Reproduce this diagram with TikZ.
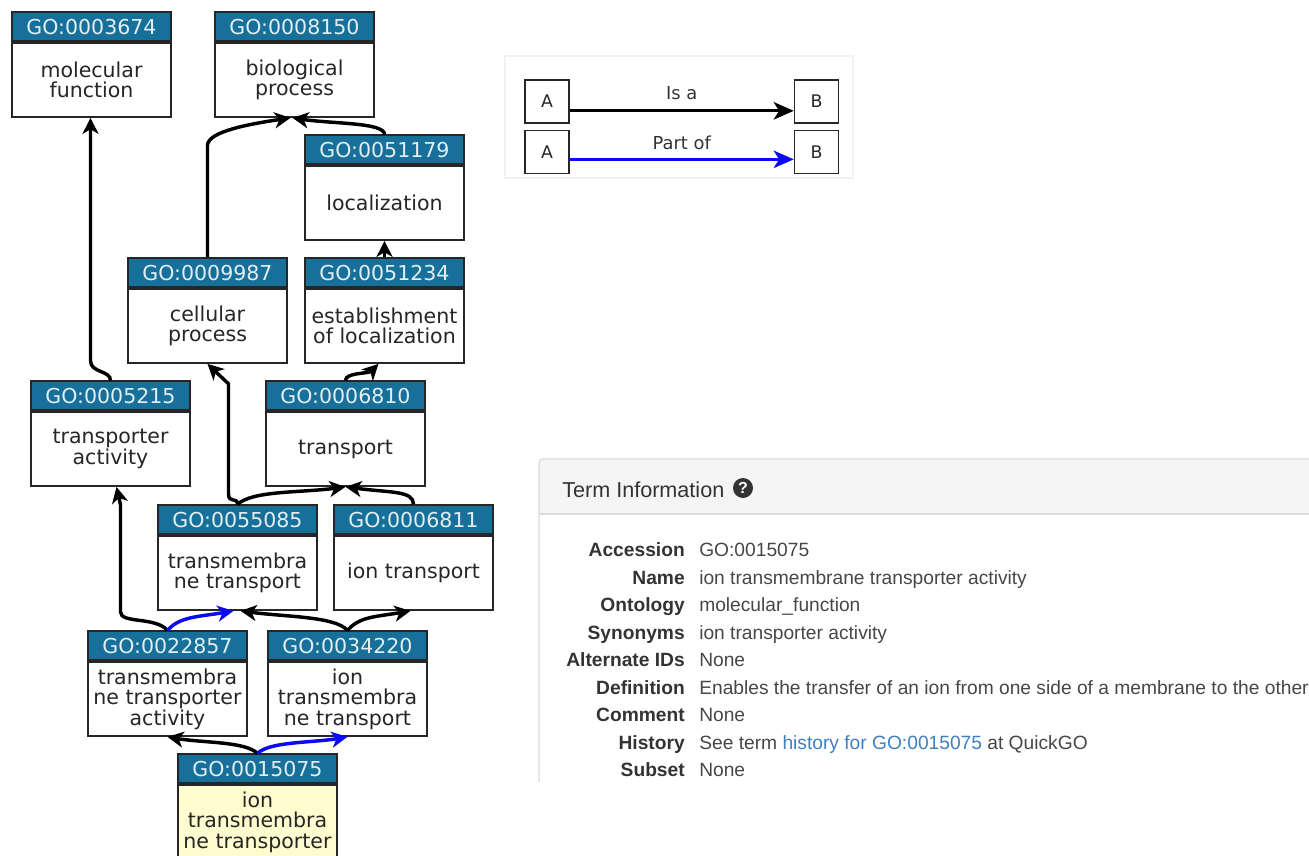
\documentclass[tikz,border=0pt]{standalone}
\usepackage{fontspec}
\newfontfamily\gofont{DejaVu Sans}
\newfontfamily\webfont{Liberation Sans}
\usetikzlibrary{arrows.meta,calc}
\definecolor{goheadc}{HTML}{16709A}
\definecolor{goyellow}{HTML}{FFFCCF}
\definecolor{txtdark}{HTML}{333333}
\definecolor{linkc}{HTML}{3F80C2}
\definecolor{partblue}{RGB}{10,10,245}
\tikzset{
  gobody/.style={draw=black!85, line width=1.3pt, fill=white, minimum width=119.25pt,
    minimum height=55.5pt, inner sep=0pt, align=center,
    font=\gofont\fontsize{15.4}{15.4}\selectfont, text=black!85},
  gohead/.style={draw=black!85, line width=1.3pt, fill=goheadc, minimum width=119.25pt,
    minimum height=21.75pt, inner sep=0pt, anchor=south,
    font=\gofont\fontsize{15.4}{16}\selectfont, text=white!88!goheadc},
  isa/.style={draw=black, line width=2.6pt, -{Stealth[length=12pt,width=12pt,inset=3.5pt]}},
  partof/.style={isa, draw=partblue},
  legbox/.style={draw=black!85, line width=1.1pt, minimum width=33pt, minimum height=32.25pt,
    inner sep=0pt, font=\gofont\fontsize{13}{13}\selectfont, text=black!85},
  legarrow/.style={line width=2.4pt, -{Stealth[length=15pt,width=13pt,inset=4pt]}},
  leglabel/.style={font=\gofont\fontsize{13.4}{14}\selectfont, text=black!80, inner sep=0pt},
  rowlab/.style={anchor=base east, inner sep=0pt, font=\webfont\bfseries\fontsize{14.4}{16}\selectfont, text=txtdark},
  rowval/.style={anchor=base west, inner sep=0pt, font=\webfont\fontsize{14.4}{16}\selectfont, text=txtdark!90}
}
\newcommand\goterm[6][white]{%
  \node[gobody,fill=#1] (#2) at (#3,#4) {#6};
  \node[gohead] (#2-id) at (#2.north) {#5};}
\begin{document}
\begin{tikzpicture}[x=0.75pt,y=-0.75pt]
\useasboundingbox (0,0) rectangle (1309,856);
\fill[white] (0,0) rectangle (1309,856);
\clip (0,0) rectangle (1309,856);

% ---------- GO graph ----------
\goterm{mf}{91.5}{80}{GO:0003674}{molecular\\function}
\goterm{bp}{294.5}{80}{GO:0008150}{biological\\process}
\goterm{loc}{384.5}{203}{GO:0051179}{localization}
\goterm{cp}{207.5}{326}{GO:0009987}{cellular\\process}
\goterm{eol}{384.5}{326}{GO:0051234}{establishment\\of localization}
\goterm{ta}{110.5}{449}{GO:0005215}{transporter\\activity}
\goterm{tr}{345.5}{449}{GO:0006810}{transport}
\goterm{tmt}{237.5}{573}{GO:0055085}{transmembra\\ne transport}
\goterm{it}{413.5}{573}{GO:0006811}{ion transport}
\goterm{tmta}{167.5}{699}{GO:0022857}{transmembra\\ne transporter\\activity}
\goterm{itm}{347.5}{699}{GO:0034220}{ion\\transmembra\\ne transport}
\goterm[goyellow]{itta}{257.5}{822}{GO:0015075}{ion\\transmembra\\ne transporter}

\draw[isa] (ta-id.north) .. controls +(0,-10) and +(0,12) .. ($(mf.south)+(-1,243)$) -- ($(mf.south)+(-1,0)$);
\draw[isa] (cp-id.north) -- ++(0,-112) .. controls +(0,-14) and +(-40,6) .. ($(bp.south)+(-4,0)$);
\draw[isa] (loc-id.north) .. controls +(0,-12) and +(40,6) .. ($(bp.south)+(-2,0)$);
\draw[isa] (eol-id.north) -- (loc.south);
\draw[isa] (tr-id.north) .. controls +(0,-8) and +(-10,10) .. ($(eol.south)+(-6,0)$);
\draw[isa] (tmt-id.north) .. controls +(0,-8) and +(0,10) .. ($(cp.south)+(21,130)$) -- ($(cp.south)+(21,20)$) -- (cp.south);
\draw[isa] (tmt-id.north) .. controls +(15,-14) and +(-45,6) .. (tr.south);
\draw[isa] (it-id.north) .. controls +(0,-14) and +(45,6) .. (tr.south);
\draw[isa] (tmta-id.north) .. controls +(-12,-14) and +(0,12) .. ($(ta.south)+(10,125)$) -- ($(ta.south)+(10,18)$) -- ($(ta.south)+(6,0)$);
\draw[partof] (tmta-id.north) .. controls +(12,-14) and +(-35,6) .. ($(tmt.south)+(-4,0)$);
\draw[isa] (itm-id.north) .. controls +(-12,-14) and +(45,6) .. ($(tmt.south)+(3,0)$);
\draw[isa] (itm-id.north) .. controls +(12,-14) and +(-35,6) .. ($(it.south)+(-3,0)$);
\draw[isa] (itta-id.north) .. controls +(-12,-12) and +(35,6) .. (tmta.south);
\draw[partof] (itta-id.north) .. controls +(12,-12) and +(-35,6) .. (itm.south);

% ---------- legend ----------
\draw[black!5, line width=0.8pt] (505,56) rectangle (853,178);
\node[legbox] (la1) at (547,101.5) {A};
\node[legbox] (lb1) at (816.5,101.5) {B};
\node[legbox] (la2) at (547,152) {A};
\node[legbox] (lb2) at (816.5,152) {B};
\draw[legarrow, draw=black] ([yshift=-7pt]la1.east) -- node[leglabel, midway, yshift=13.5pt] {Is a} ([yshift=-7pt]lb1.west);
\draw[legarrow, draw=partblue] ([yshift=-5.5pt]la2.east) -- node[leglabel, midway, yshift=12pt] {Part of} ([yshift=-5.5pt]lb2.west);

% ---------- term information panel ----------
\fill[black!4] (539,459) rectangle (1320,514);
\draw[black!14, line width=1pt, rounded corners=3pt] (539,782) -- (539,459) -- (1320,459);
\draw[black!14, line width=1pt] (539,514) -- (1320,514);
\node[anchor=base west, inner sep=0pt, font=\webfont\fontsize{16.2}{18}\selectfont, text=txtdark] (title) at (562,497) {Term Information};
\node[circle, fill=txtdark, minimum size=15pt, inner sep=0pt, font=\webfont\bfseries\fontsize{12}{12}\selectfont, text=white] (help) at (743,488) {?};

\node[rowlab] (l1) at (685,556) {Accession};
\node[rowval] (v1) at (699,556) {GO:0015075};
\node[rowlab] (l2) at (685,584) {Name};
\node[rowval] (v2) at (699,584) {ion transmembrane transporter activity};
\node[rowlab] (l3) at (685,611) {Ontology};
\node[rowval] (v3) at (699,611) {molecular\_function};
\node[rowlab] (l4) at (685,639) {Synonyms};
\node[rowval] (v4) at (699,639) {ion transporter activity};
\node[rowlab] (l5) at (685,666) {Alternate IDs};
\node[rowval] (v5) at (699,666) {None};
\node[rowlab] (l6) at (685,694) {Definition};
\node[rowval] (v6) at (699,694) {Enables the transfer of an ion from one side of a membrane to the other};
\node[rowlab] (l7) at (685,721) {Comment};
\node[rowval] (v7) at (699,721) {None};
\node[rowlab] (l8) at (685,749) {History};
\node[rowval] (v8) at (699,749) {See term \textcolor{linkc}{history for GO:0015075} at QuickGO};
\node[rowlab] (l9) at (685,776) {Subset};
\node[rowval] (v9) at (699,776) {None};
\end{tikzpicture}
\end{document}
